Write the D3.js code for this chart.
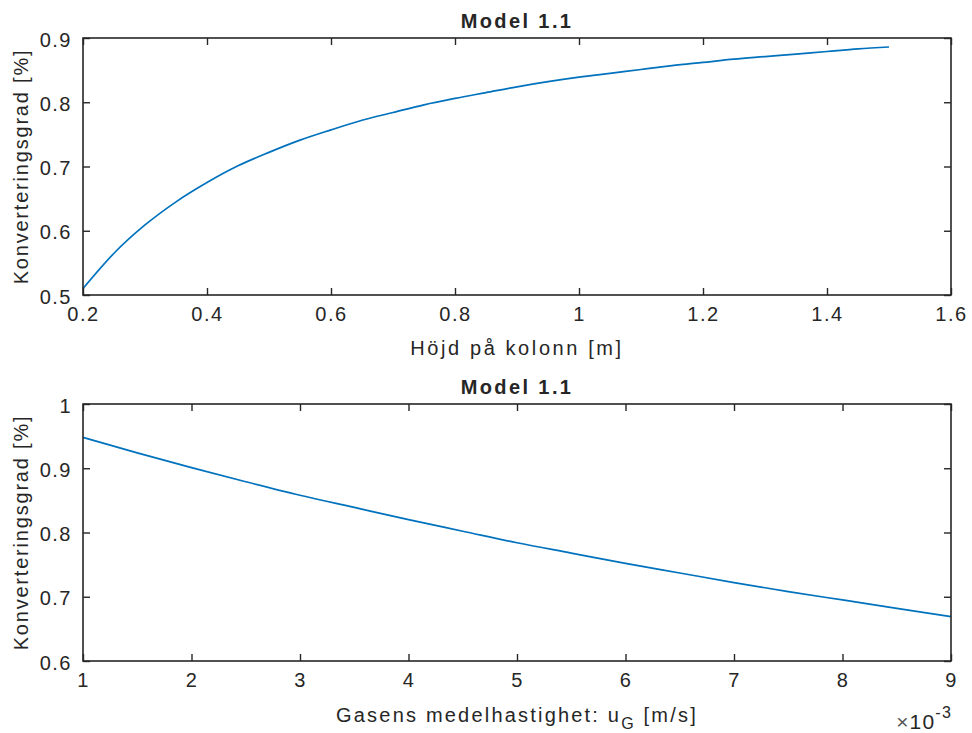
<!DOCTYPE html>
<html>
<head>
<meta charset="utf-8">
<script src="https://cdn.jsdelivr.net/npm/d3@7"></script>
<style>
  body { margin: 0; background: #fff; }
  text { font-family: "Liberation Sans", Arial, sans-serif; fill: #262626; }
</style>
</head>
<body>
<div id="chart"></div>
<script>
// data
const heightX = [0.2, 0.25, 0.3, 0.35, 0.4, 0.45, 0.5, 0.55, 0.6, 0.65, 0.7, 0.75, 0.8, 0.85,
                 0.9, 0.95, 1.0, 1.05, 1.1, 1.15, 1.2, 1.25, 1.3, 1.35, 1.4, 1.45, 1.5];
const heightY = [0.510, 0.565, 0.609, 0.645, 0.675, 0.701, 0.722, 0.741, 0.757, 0.772, 0.784, 0.796,
                 0.806, 0.815, 0.824, 0.832, 0.839, 0.845, 0.851, 0.857, 0.862, 0.867, 0.871, 0.875,
                 0.879, 0.883, 0.886];

const speedX = [0.001, 0.0015, 0.002, 0.0025, 0.003, 0.0035, 0.004, 0.0045, 0.005, 0.0055,
                0.006, 0.0065, 0.007, 0.0075, 0.008, 0.0085, 0.009];
const speedY = [0.948, 0.924, 0.901, 0.879, 0.858, 0.839, 0.820, 0.802, 0.784, 0.768,
                0.752, 0.737, 0.722, 0.708, 0.695, 0.682, 0.669];

const topXTicks = [0.2, 0.4, 0.6, 0.8, 1, 1.2, 1.4, 1.6];
const topYTicks = [0.5, 0.6, 0.7, 0.8, 0.9];
const botXTicks = [0.001, 0.002, 0.003, 0.004, 0.005, 0.006, 0.007, 0.008, 0.009];
const botYTicks = [0.6, 0.7, 0.8, 0.9, 1];

const titles = ["Model 1.1", "Model 1.1"];
const yLabel = "Konverteringsgrad [%]";

// layout
const WIDTH = 972, HEIGHT = 733;
const AX_LEFT = 83, AX_RIGHT = 951;
const TICK = 7;
const LINE_COLOR = "#0072BD";
const AX_COLOR = "#262626";

const svg = d3.select("#chart").append("svg")
    .attr("width", WIDTH)
    .attr("height", HEIGHT)
    .style("background", "#fff");

// draws one subplot
function makePanel(top, bottom, xDomain, yDomain, xTicks, yTicks, xs, ys, xFmt, title) {
    const x = d3.scaleLinear().domain(xDomain).range([AX_LEFT, AX_RIGHT]);
    const y = d3.scaleLinear().domain(yDomain).range([bottom, top]);
    const g = svg.append("g");

    // line
    const pts = xs.map((v, i) => [v, ys[i]]);
    g.append("path")
        .datum(pts)
        .attr("fill", "none")
        .attr("stroke", LINE_COLOR)
        .attr("stroke-width", 1.7)
        .attr("d", d3.line().x(d => x(d[0])).y(d => y(d[1])).curve(d3.curveMonotoneX));

    // box
    g.append("rect")
        .attr("x", AX_LEFT).attr("y", top)
        .attr("width", AX_RIGHT - AX_LEFT).attr("height", bottom - top)
        .attr("fill", "none")
        .attr("stroke", AX_COLOR)
        .attr("stroke-width", 1.6);

    // bottom axis, ticks pointing in
    const xAx = g.append("g")
        .attr("transform", "translate(0," + bottom + ")")
        .call(d3.axisBottom(x).tickValues(xTicks).tickSize(-TICK).tickPadding(18).tickFormat(xFmt));
    // top mirrored ticks
    g.append("g")
        .attr("transform", "translate(0," + top + ")")
        .call(d3.axisTop(x).tickValues(xTicks).tickSize(-TICK).tickFormat(""));
    // left axis
    const yAx = g.append("g")
        .attr("transform", "translate(" + AX_LEFT + ",0)")
        .call(d3.axisLeft(y).tickValues(yTicks).tickSize(-TICK).tickPadding(11).tickFormat(d3.format("~g")));
    // right mirrored ticks
    g.append("g")
        .attr("transform", "translate(" + AX_RIGHT + ",0)")
        .call(d3.axisRight(y).tickValues(yTicks).tickSize(-TICK).tickFormat(""));

    g.selectAll(".domain").remove();
    g.selectAll(".tick line").attr("stroke", AX_COLOR).attr("stroke-width", 1.4);
    g.selectAll(".tick text")
        .attr("fill", AX_COLOR)
        .style("font-size", "20px")
        .style("letter-spacing", "1.5px")
        .style("font-family", "'Liberation Sans', Arial, sans-serif");
    xAx.selectAll(".tick text").attr("dy", "0.4em");
    yAx.selectAll(".tick text").attr("dy", "0.4em");

    // title
    svg.append("text")
        .attr("x", (AX_LEFT + AX_RIGHT) / 2)
        .attr("y", top - 10)
        .attr("text-anchor", "middle")
        .style("font-size", "20px")
        .style("font-weight", "bold")
        .style("letter-spacing", "2.4px")
        .text(title);

    // y label
    svg.append("text")
        .attr("transform", "translate(28," + (top + bottom) / 2 + ") rotate(-90)")
        .attr("text-anchor", "middle")
        .style("font-size", "20px")
        .style("letter-spacing", "1.8px")
        .text(yLabel);

    return {x, y};
}

makePanel(38, 295, [0.2, 1.6], [0.5, 0.9], topXTicks, topYTicks, heightX, heightY, d3.format("~g"), titles[0]);
makePanel(404, 661, [0.001, 0.009], [0.6, 1], botXTicks, botYTicks, speedX, speedY, d => d3.format("~g")(d * 1000), titles[1]);

// x labels
svg.append("text")
    .attr("x", (AX_LEFT + AX_RIGHT) / 2)
    .attr("y", 355)
    .attr("text-anchor", "middle")
    .style("font-size", "20px")
    .style("letter-spacing", "2.6px")
    .text("Höjd på kolonn [m]");

const xl2 = svg.append("text")
    .attr("x", (AX_LEFT + AX_RIGHT) / 2)
    .attr("y", 722)
    .attr("text-anchor", "middle")
    .style("font-size", "20px")
    .style("letter-spacing", "2.2px");
xl2.append("tspan").text("Gasens medelhastighet: u");
xl2.append("tspan").attr("dy", 7).style("font-size", "16px").text("G");
xl2.append("tspan").attr("dy", -7).text(" [m/s]");

// exponent marker
const ex = svg.append("text")
    .attr("x", 952)
    .attr("y", 729)
    .attr("text-anchor", "end")
    .style("font-size", "21px")
    .style("letter-spacing", "1.2px");
ex.append("tspan").style("fill", "#555").text("×");
ex.append("tspan").text("10");
ex.append("tspan").attr("dy", -11).style("font-size", "16px").text("-3");
</script>
</body>
</html>
